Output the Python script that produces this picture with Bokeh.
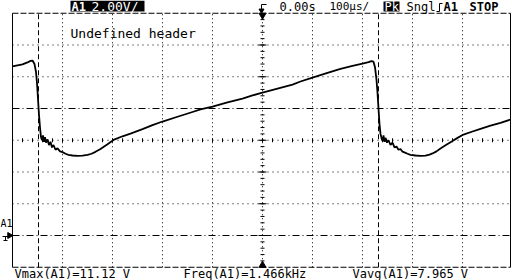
import numpy as np
from bokeh.plotting import figure
from bokeh.models import Range1d
from bokeh.embed import file_html
from bokeh.resources import INLINE
from bokeh.core.properties import value

t_us = [-500, -490, -480, -470, -464, -460, -456, -453, -451, -449, -447, -445,
        -443, -441, -439, -437, -435, -433, -430, -427, -424, -421, -418, -414,
        -410, -405, -400, -394, -388, -380, -370, -360, -350, -342, -334, -324,
        -310, -298, -280, -264, -240, -220, -200, -170, -140, -124, -100, -70,
        -40, -20, 0, 30, 60, 76, 100, 130, 156, 180, 200, 212, 218, 222, 225,
        228, 230, 232, 234, 236, 238, 240, 242, 244, 246, 249, 252, 256, 260,
        264, 268, 272, 276, 280, 285, 290, 296, 306, 316, 326, 334, 340, 348,
        356, 366, 376, 390, 402, 420, 436, 456, 476, 496]
volts = [10.65, 10.72, 10.78, 10.9, 11.0, 11.02, 10.8, 10.3, 9.6, 8.6, 7.6, 6.8,
         6.2, 6.0, 6.3, 5.9, 6.2, 5.85, 6.05, 5.7, 5.9, 5.55, 5.7, 5.4,
         5.5, 5.3, 5.25, 5.15, 5.08, 5.04, 5.02, 5.03, 5.08, 5.15, 5.27, 5.45,
         5.75, 6.02, 6.25, 6.42, 6.7, 6.95, 7.18, 7.48, 7.78, 7.94, 8.12, 8.38,
         8.62, 8.82, 9.0, 9.25, 9.5, 9.7, 9.95, 10.25, 10.5, 10.68, 10.82, 10.92, 10.98, 10.95, 10.6,
         9.8, 9.0, 8.0, 7.0, 6.4, 6.15, 5.95, 6.3, 5.9, 6.15, 5.85, 6.0, 5.7, 5.85,
         5.55, 5.6, 5.4, 5.45, 5.28, 5.22, 5.15, 5.08, 5.04, 5.02, 5.03, 5.1, 5.17, 5.3,
         5.48, 5.68, 5.88, 6.15, 6.36, 6.55, 6.72, 6.92, 7.1, 7.3]

t_per_div = 100          # µs / div
v_per_div = 2.0          # V / div
t_span = (-500, 496)     # screen edges in µs
v_span = (-2.0, 14.0)    # screen edges in V
v_center = 6.0
cursor_t = [-448, 232]
cursor_v = [8.0, 0.0]

header = "Undefined header"
ch_name = "A1"
ch_scale = "2.00V/"
delay = "0.00s"
timebase = "100µs/"
acq_mode = "Pk"
trig_mode = "Sngl"
trig_src = "A1"
run_state = "STOP"
measurements = ["Vmax(A1)=11.12 V", "Freq(A1)=1.466kHz", "Vavg(A1)=7.965 V"]

# ---------------- pixel <-> data helpers ----------------
W, H = 512, 280
X0, PX_PER_US = 262.0, 0.5
Y0, PX_PER_V = 235.0, 15.875


def tx(px):
    return (px - X0) / PX_PER_US


def vy(py):
    return (Y0 - py) / PX_PER_V


p = figure(width=W, height=H, output_backend="svg", toolbar_location=None,
           x_range=Range1d(tx(0), tx(W)), y_range=Range1d(vy(H), vy(0)),
           min_border=0)
p.axis.visible = False
p.grid.visible = False
p.outline_line_color = None
p.background_fill_color = "white"
p.border_fill_color = "white"

FONT = value("DejaVu Sans Mono")
t0, t1 = t_span
v0, v1 = v_span

# dotted grid
vt = [t for t in np.arange(t0 + t_per_div, t1, t_per_div) if abs(t) > 1]
p.segment(x0=vt, y0=[v0] * len(vt), x1=vt, y1=[v1] * len(vt),
          line_color="black", line_width=1, line_dash="1 3")
hv = [v for v in np.arange(v0 + v_per_div, v1, v_per_div)
      if abs(v - v_center) > 0.1 and all(abs(v - c) > 0.1 for c in cursor_v)]
p.segment(x0=[t0] * len(hv), y0=hv, x1=[t1] * len(hv), y1=hv,
          line_color="black", line_width=1, line_dash="1 4")

# centre axes with ticks
p.segment(x0=[t0], y0=[v_center], x1=[t1], y1=[v_center],
          line_color="black", line_width=1, line_dash="1 4")
p.segment(x0=[0], y0=[v0], x1=[0], y1=[v1],
          line_color="black", line_width=1, line_dash="1 3")
mt = np.arange(t0, t1, t_per_div / 5)
hl = 2 / PX_PER_V
p.segment(x0=mt, y0=v_center - hl, x1=mt, y1=v_center + hl, line_color="black", line_width=1)
mv = np.arange(v0, v1, v_per_div / 5)
hw = 2 / PX_PER_US
p.segment(x0=-hw, y0=mv, x1=hw, y1=mv, line_color="black", line_width=1)
Mv = np.arange(v0 + v_per_div, v1, v_per_div)
p.segment(x0=-2 * hw, y0=Mv, x1=2 * hw, y1=Mv, line_color="black", line_width=1)

# cursors
p.segment(x0=cursor_t, y0=[v0] * 2, x1=cursor_t, y1=[v1] * 2,
          line_color="black", line_width=1, line_dash="5 3")
p.segment(x0=[t0] * 2, y0=cursor_v, x1=[t1] * 2, y1=cursor_v,
          line_color="black", line_width=1, line_dash="7 3 1 3")

# frame
p.segment(x0=[t0, t1], y0=[v0, v0], x1=[t0, t1], y1=[v1, v1], line_color="black", line_width=1)
p.segment(x0=[t0, t0], y0=[v0, v1], x1=[t1, t1], y1=[v0, v1],
          line_color="black", line_width=1, line_dash="6 2")

# trigger position markers
p.scatter([0], [v1 - 2 / PX_PER_V], marker="inverted_triangle", size=7, color="black")
p.scatter([0], [v0 + 2 / PX_PER_V], marker="triangle", size=7, color="black")

# waveform
p.line(t_us, volts, line_color="black", line_width=1.8)

# ---------------- texts ----------------
def txt(px, py, s, size="12px", color="black", style="normal", align="left"):
    p.text(x=[tx(px)], y=[vy(py)], text=[s], text_font=FONT, text_font_size=size,
           text_color=color, text_font_style=style, text_baseline="middle", text_align=align)


def box(pxa, pxb, pya, pyb):
    p.quad(left=[tx(pxa)], right=[tx(pxb)], bottom=[vy(pyb)], top=[vy(pya)],
           fill_color="black", line_color=None)


# channel header (inverted)
box(70, 144, 0, 11)
txt(71, 6, ch_name, style="bold", color="white")
txt(91, 6, ch_scale, size="13px", color="white")

txt(70, 33, header, size="13px")

# trigger delay symbol
p.line([tx(266), tx(261), tx(261)], [vy(4), vy(4), vy(9)], line_color="black", line_width=1)
p.scatter([tx(261)], [vy(10)], marker="inverted_triangle", size=5, color="black")
txt(279, 6, delay)
txt(329, 6, timebase, size="11px")
box(383, 399, 1, 11)
txt(384, 6, acq_mode, color="white")
txt(406, 6, trig_mode)
# rising edge symbol
p.line([tx(436), tx(439), tx(439), tx(442)], [vy(11), vy(11), vy(3), vy(3)],
       line_color="black", line_width=1)
txt(443, 6, trig_src, style="bold")
txt(469, 6, run_state, style="bold")

# channel ground marker
txt(0, 223, ch_name, size="10px")
p.scatter([tx(9)], [0], marker="triangle", angle=-np.pi / 2, size=6, color="black")
p.segment(x0=[tx(2), tx(5), tx(3)], y0=[vy(236), vy(236), vy(240)],
          x1=[tx(8), tx(5), tx(7)], y1=[vy(236), vy(240), vy(240)],
          line_color="black", line_width=1)

# measurements
for px, s in zip([14, 183, 352], measurements):
    txt(px, 273, s)

open("out.html", "w").write(file_html(p, INLINE))
